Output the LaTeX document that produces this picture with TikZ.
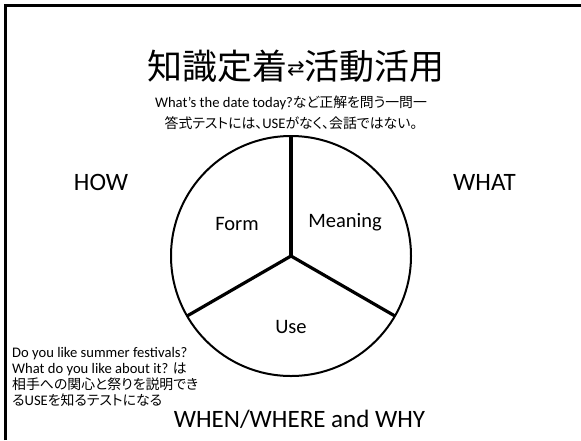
\documentclass[tikz,border=0pt]{standalone}
\usepackage{fontspec}
\setmainfont{Carlito}
\newfontfamily\jp[RawFeature=+palt,Scale=0.95]{Noto Sans CJK JP}
\newfontfamily\jpm{Noto Sans CJK JP}
\newfontfamily\sym{DejaVu Sans}
\begin{document}
\begin{tikzpicture}[x=1pt,y=-1pt,
  big/.style={font=\fontsize{25}{30}\selectfont, inner sep=0pt, anchor=base},
  small/.style={font=\fontsize{14.6}{16}\selectfont, inner sep=0pt, anchor=base west},
  smallc/.style={small, anchor=base},
  seg/.style={font=\fontsize{20.5}{24}\selectfont, inner sep=0pt, anchor=base},
  spoke/.style={line width=3.2pt},
  ring/.style={line width=2pt},
  frame/.style={line width=2.4pt},
]
\useasboundingbox (0,0) rectangle (581,440);
\fill[white] (0,0) rectangle (581,440);
\draw[frame] (5.5,440) -- (5.5,5.5) -- (581,5.5);

\node[font=\jpm\fontsize{35}{40}\selectfont, inner sep=0pt, anchor=center] (title) at (296,66)
  {知識定着\raisebox{4pt}{\sym\fontsize{21}{24}\selectfont ⇄}活動活用};

\node[smallc] (q1) at (291,107) {What’s the date today?{\jp など正解を問う一問一}};
\node[smallc] (q2) at (291,128) {{\jp 答式テストには、}USE{\jp がなく、会話ではない。}};

\node[big] (how) at (101,190) {HOW};
\node[big] (what) at (484.5,190) {WHAT};
\node[big] (when) at (299.5,427) {WHEN/WHERE and WHY};

\coordinate (c) at (291,256);
\draw[ring] (c) circle[radius=120];
\draw[spoke] (c) -- ++(-90:120);
\draw[spoke] (c) -- ++(30:120);
\draw[spoke] (c) -- ++(150:120);

\node[seg] (form) at (237,230) {Form};
\node[seg] (meaning) at (345,227) {Meaning};
\node[seg] (use) at (291,333) {Use};

\node[small] (d1) at (12,357) {Do you like summer festivals?};
\node[small] (d2) at (12,373) {What do you like about it? {\jp は}};
\node[small] (d3) at (12,389) {{\jp 相手への関心と祭りを説明でき}};
\node[small] (d4) at (12,405) {{\jp る}USE{\jp を知るテストになる}};
\end{tikzpicture}
\end{document}
